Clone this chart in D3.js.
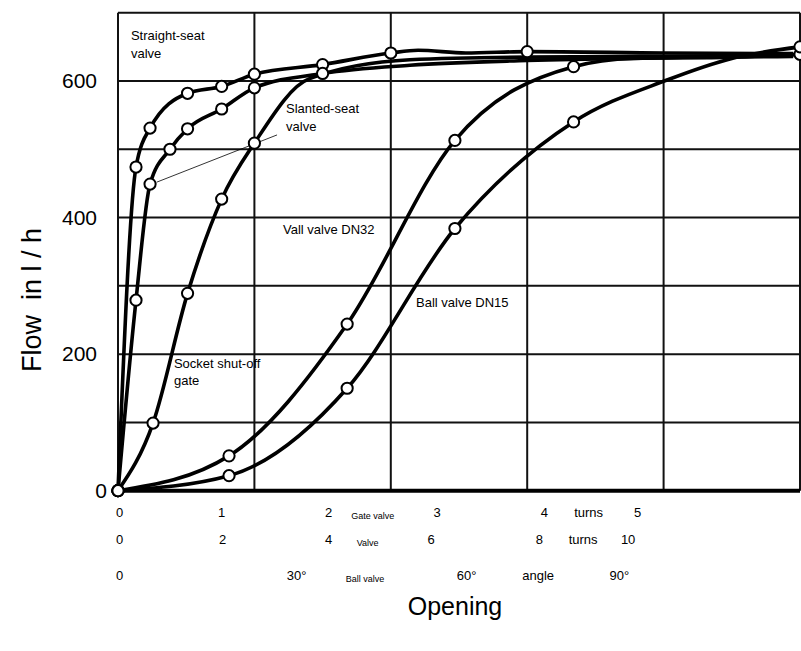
<!DOCTYPE html>
<html>
<head>
<meta charset="utf-8">
<script src="https://cdn.jsdelivr.net/npm/d3@7/dist/d3.min.js"></script>
<style>
  body { margin: 0; background: #fff; }
  svg { display: block; }
  text { font-family: "Liberation Sans", Arial, Helvetica, sans-serif; fill: #000; }
</style>
</head>
<body>
<svg id="chart" width="801" height="651"></svg>
<script>
// Flow through shut-off valves versus opening.
// Opening runs over 5 grid units; each valve type has its own tick row below the axis.

const flowGrid = [0, 100, 200, 300, 400, 500, 600, 700];
const flowTicks = [0, 200, 400, 600];
const openingGrid = [0, 1, 2, 3, 4, 5];

// [opening, flow l/h, measured point (1) or curve point (0)]
const straightSeat = [
  [0, 0, 1], [0.132, 474, 1], [0.235, 531, 1], [0.51, 582, 1], [0.76, 592, 1],
  [1.0, 610, 1], [1.5, 624, 1], [2.0, 641, 1], [2.2, 645, 0], [2.55, 641, 0],
  [3.0, 643, 1], [4.0, 641, 0], [4.95, 640, 0]
];
const slantedSeat = [
  [0, 0, 1], [0.132, 279, 1], [0.235, 449, 1], [0.381, 500, 1], [0.51, 530, 1],
  [0.76, 559, 1], [1.0, 590, 1], [1.5, 611, 1], [2.14, 623, 0], [3.0, 630, 0],
  [4.95, 636, 0]
];
const socketGate = [
  [0, 0, 1], [0.257, 99, 1], [0.51, 289, 1], [0.76, 427, 1], [1.0, 509, 1],
  [1.4, 603, 0], [2.14, 631, 0], [3.0, 635, 0], [4.95, 637, 0]
];
const vallValveDN32 = [
  [0, 0, 1], [0.814, 51, 1], [1.68, 244, 1], [2.47, 513, 1], [3.34, 621, 1],
  [3.78, 633, 0], [4.5, 635, 0], [5.0, 639, 1]
];
const ballValveDN15 = [
  [0, 0, 1], [0.814, 22, 1], [1.68, 150, 1], [2.47, 384, 1], [3.34, 540, 1],
  [4.02, 601, 0], [4.5, 633, 0], [5.0, 650, 1]
];

// Curve labels: [text lines, opening, flow at first baseline]
const curveLabels = [
  [["Straight-seat", "valve"], 0.095, 660],
  [["Slanted-seat", "valve"], 1.232, 553],
  [["Vall valve DN32"], 1.21, 376],
  [["Ball valve DN15"], 2.185, 269],
  [["Socket shut-off", "gate"], 0.41, 180]
];
// Leader from the slanted-seat curve to its label: [opening, flow]
const leader = [[0.286, 452], [1.166, 521]];

// Tick rows under the axis: [label, opening]
const gateValveTurns = [["0", 0.012], ["1", 0.76], ["2", 1.545], ["3", 2.34], ["4", 3.125], ["5", 3.81]];
const valveTurns = [["0", 0.012], ["2", 0.767], ["4", 1.545], ["6", 2.295], ["8", 3.09], ["10", 3.74]];
const ballValveAngle = [["0", 0.012], ["30°", 1.31], ["60°", 2.556], ["90°", 3.675]];
// Row captions: small valve name (left-anchored) and unit word (centred): [text, opening]
const rowNames = [["Gate valve", 1.71], ["Valve", 1.75], ["Ball valve", 1.67]];
const rowUnits = [["turns", 3.45], ["turns", 3.41], ["angle", 3.08]];

const svg = d3.select("#chart");
const x = d3.scaleLinear().domain([0, 5]).range([118, 800]);
const y = d3.scaleLinear().domain([0, 700]).range([490.7, 12.7]);

// Grid
const grid = svg.append("g").attr("stroke", "#111").attr("stroke-width", 2);
grid.selectAll("line.h").data(flowGrid).join("line").attr("class", "h")
  .attr("x1", x(0)).attr("x2", x(5)).attr("y1", d => y(d)).attr("y2", d => y(d));
grid.selectAll("line.v").data(openingGrid).join("line").attr("class", "v")
  .attr("x1", d => x(d)).attr("x2", d => x(d)).attr("y1", y(0)).attr("y2", y(700));
// Heavier baseline
svg.append("line").attr("x1", x(0)).attr("x2", x(5)).attr("y1", y(0)).attr("y2", y(0))
  .attr("stroke", "#000").attr("stroke-width", 4);

// Flow axis
const yAxis = d3.axisLeft(y).tickValues(flowTicks).tickSize(0).tickPadding(0);
const yg = svg.append("g").attr("transform", "translate(97,0)").call(yAxis);
yg.select(".domain").remove();
yg.selectAll("text")
  .attr("font-size", 21)
  .attr("font-family", "Liberation Sans, Arial, sans-serif")
  .attr("fill", "#000")
  .attr("dx", d => d === 0 ? 10 : 0);

svg.append("text")
  .attr("transform", "translate(41,300) rotate(-90)")
  .attr("text-anchor", "middle").attr("font-size", 27)
  .style("white-space", "pre")
  .text("Flow  in l / h");

// Tick rows
const rows = [gateValveTurns, valveTurns, ballValveAngle];
const rowBaselines = [517, 543.5, 579.5];
rows.forEach((row, i) => {
  const g = svg.append("g");
  g.selectAll("text.tick").data(row).join("text").attr("class", "tick")
    .attr("x", d => x(d[1])).attr("y", rowBaselines[i])
    .attr("text-anchor", "middle").attr("font-size", 13)
    .text(d => d[0]);
  g.append("text")
    .attr("x", x(rowNames[i][1])).attr("y", rowBaselines[i] + 2)
    .attr("font-size", 9).text(rowNames[i][0]);
  g.append("text")
    .attr("x", x(rowUnits[i][1])).attr("y", rowBaselines[i])
    .attr("text-anchor", "middle").attr("font-size", 13).text(rowUnits[i][0]);
});

svg.append("text").attr("x", 455).attr("y", 615)
  .attr("text-anchor", "middle").attr("font-size", 25).text("Opening");

// Curves
const series = [straightSeat, slantedSeat, socketGate, vallValveDN32, ballValveDN15];
const line = d3.line().x(d => x(d[0])).y(d => y(d[1])).curve(d3.curveMonotoneX);
svg.append("g").selectAll("path").data(series).join("path")
  .attr("d", line).attr("fill", "none").attr("stroke", "#000")
  .attr("stroke-width", 3.6).attr("stroke-linejoin", "round");

// Leader line
svg.append("line")
  .attr("x1", x(leader[0][0])).attr("y1", y(leader[0][1]))
  .attr("x2", x(leader[1][0])).attr("y2", y(leader[1][1]))
  .attr("stroke", "#000").attr("stroke-width", 0.8);

// Measured points
svg.append("g").selectAll("g").data(series).join("g")
  .selectAll("circle").data(d => d.filter(p => p[2] === 1)).join("circle")
  .attr("cx", d => x(d[0])).attr("cy", d => y(d[1])).attr("r", 5.6)
  .attr("fill", "#fff").attr("stroke", "#000").attr("stroke-width", 2);

// Curve labels
const lab = svg.append("g").selectAll("text").data(curveLabels).join("text")
  .attr("x", d => x(d[1])).attr("y", d => y(d[2])).attr("font-size", 13);
lab.selectAll("tspan").data(d => d[0].map(t => [t, d[1]])).join("tspan")
  .attr("x", d => x(d[1])).attr("dy", (d, i) => i === 0 ? 0 : 17.5)
  .text(d => d[0]);
</script>
</body>
</html>
